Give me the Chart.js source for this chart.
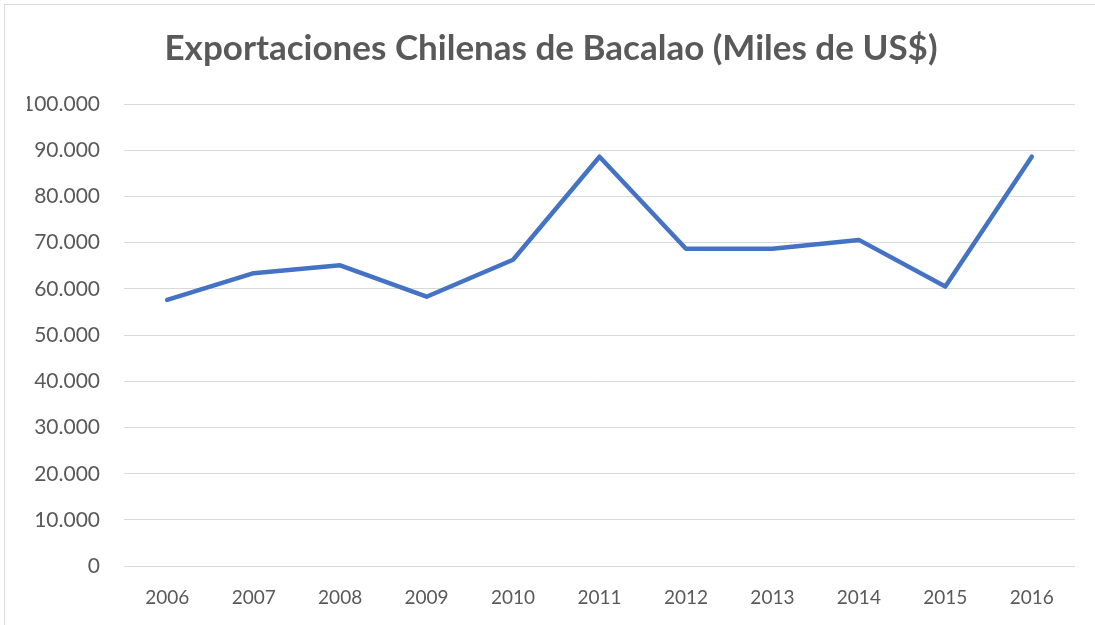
<!DOCTYPE html>
<html>
<head>
<meta charset="utf-8">
<script src="https://cdn.jsdelivr.net/npm/chart.js@4.4.1/dist/chart.umd.min.js"></script>
<style>
  html, body { margin: 0; padding: 0; background: #ffffff; }
  #wrap { position: absolute; left: 0; top: 0; width: 1095px; height: 625px; }
  #frame { position: absolute; left: 4px; top: 4px; width: 1100px; height: 640px; border: 1px solid #d9d9d9; box-sizing: border-box; pointer-events: none; }
  canvas { position: absolute; left: 0; top: 0; }
</style>
</head>
<body>
<div id="wrap">
  <canvas id="c" width="1095" height="625"></canvas>
  <div id="frame"></div>
</div>
<script>
const categories = ['2006','2007','2008','2009','2010','2011','2012','2013','2014','2015','2016'];
const exportValues = [57600, 63400, 65100, 58300, 66300, 88600, 68700, 68700, 70600, 60500, 88600];
const chartTitle = 'Exportaciones Chilenas de Bacalao (Miles de US$)';

function fmt(v) {
  return String(v).replace(/\B(?=(\d{3})+(?!\d))/g, '.');
}

new Chart(document.getElementById('c'), {
  type: 'line',
  data: {
    labels: categories,
    datasets: [{
      label: 'Exportaciones',
      data: exportValues,
      borderColor: '#4472C4',
      borderWidth: 4.5,
      pointRadius: 0,
      pointHoverRadius: 0,
      tension: 0,
      fill: false,
      borderCapStyle: 'round',
      borderJoinStyle: 'round'
    }]
  },
  options: {
    responsive: false,
    animation: false,
    devicePixelRatio: 1,
    layout: { padding: { left: 27, right: 20, top: 28, bottom: 4 } },
    plugins: {
      legend: { display: false },
      tooltip: { enabled: false },
      title: {
        display: true,
        text: chartTitle,
        color: '#595959',
        font: { family: 'Lato', size: 35, weight: 'bold' },
        padding: { top: 0, bottom: 34 }
      }
    },
    scales: {
      x: {
        offset: true,
        grid: { display: false },
        border: { display: false },
        ticks: { color: '#595959', font: { family: 'Lato', size: 19 }, padding: 12, maxRotation: 0 }
      },
      y: {
        min: 0,
        max: 100000,
        afterFit: s => { s.width = 97; },
        grid: { color: '#d9d9d9', lineWidth: 1, drawTicks: false },
        border: { display: false },
        ticks: {
          stepSize: 10000,
          color: '#595959',
          font: { family: 'Lato', size: 21 },
          padding: 24,
          callback: v => fmt(v)
        }
      }
    }
  }
});
</script>
</body>
</html>
